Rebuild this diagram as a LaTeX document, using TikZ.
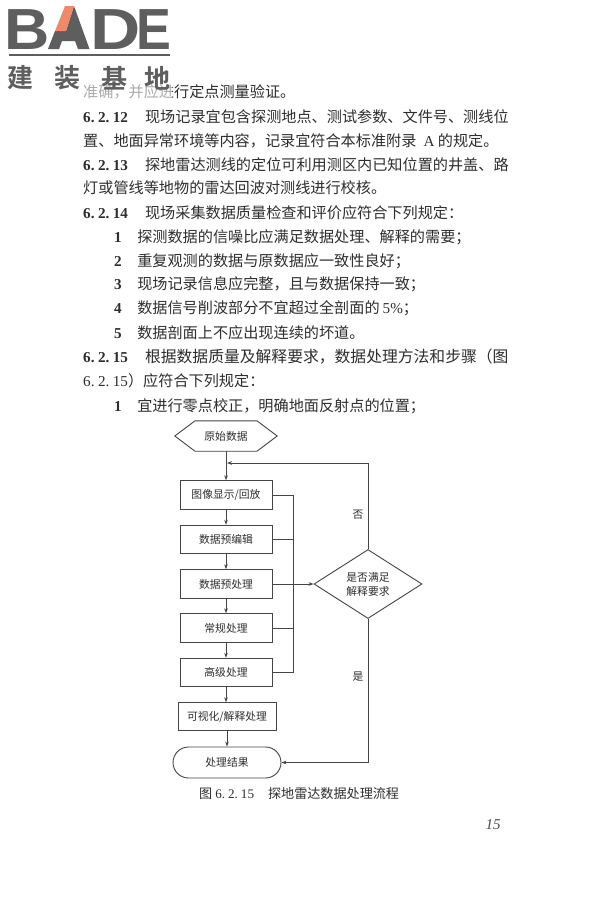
\documentclass[tikz,border=0pt]{standalone}
\usepackage{fontspec}
\usetikzlibrary{shapes.geometric,shapes.misc,arrows.meta}
\setmainfont{Noto Sans CJK SC}
\newfontfamily\cjkb{Noto Sans CJK SC Bold}
\newfontfamily\latinb{Liberation Sans Bold}
\newfontfamily\seriff{Liberation Serif}
\newfontfamily\serifb{Liberation Serif Bold}
\definecolor{ink}{HTML}{2E2E2E}
\definecolor{flowline}{HTML}{454545}
\definecolor{logogrey}{HTML}{5E5E5E}
\definecolor{logoorange}{HTML}{EE8A6A}
\tikzset{
  bodyline/.style={anchor=west,inner sep=0pt,text=ink,font=\fontsize{15.15}{16}\selectfont,text height=12pt,text depth=2pt},
  flowbox/.style={draw=flowline,line width=.9pt,rectangle,minimum width=92pt,minimum height=28.5pt,inner sep=0pt,text=ink,font=\fontsize{10.8}{12}\selectfont},
  flowarrow/.style={draw=flowline,line width=.8pt,-{Stealth[length=5pt,width=3.6pt]}},
  flowlink/.style={draw=flowline,line width=.8pt},
  flowlabel/.style={inner sep=0pt,text=ink,font=\fontsize{10.8}{12}\selectfont},
  logoletter/.style={anchor=base west,inner sep=0pt,text=logogrey,font=\latinb\fontsize{58}{58}\selectfont},
  logocjk/.style={inner sep=0pt,text=logogrey,font=\cjkb\fontsize{26}{28}\selectfont},
}
\newcommand{\secno}[3]{{\serifb #1.\hspace{3.5pt}#2.\hspace{3.5pt}#3}\hspace{17pt}}
\newcommand{\itemno}[1]{{\serifb #1}\hspace{15.5pt}}
\begin{document}
\begin{tikzpicture}[x=1pt,y=-1pt]
\useasboundingbox (0,0) rectangle (600,900);
\fill[white] (0,0) rectangle (600,900);
% body text
\node[bodyline] (t0) at (83,92) {准确，并应进行定点测量验证。};
\fill[white,opacity=.6] (80,80) rectangle (172,102);
\node[bodyline] (t1) at (83,117) {\secno{6}{2}{12}现场记录宜包含探测地点、测试参数、文件号、测线位};
\node[bodyline] (t2) at (83,141) {置、地面异常环境等内容，记录宜符合本标准附录\hspace{7pt}{\seriff A}\hspace{3.5pt}的规定。};
\node[bodyline] (t3) at (83,165) {\secno{6}{2}{13}探地雷达测线的定位可利用测区内已知位置的井盖、路};
\node[bodyline] (t4) at (83,188) {灯或管线等地物的雷达回波对测线进行校核。};
\node[bodyline] (t5) at (83,213) {\secno{6}{2}{14}现场采集数据质量检查和评价应符合下列规定：};
\node[bodyline] (t6) at (114,237) {\itemno{1}探测数据的信噪比应满足数据处理、解释的需要；};
\node[bodyline] (t7) at (114,261) {\itemno{2}重复观测的数据与原数据应一致性良好；};
\node[bodyline] (t8) at (114,284) {\itemno{3}现场记录信息应完整，且与数据保持一致；};
\node[bodyline] (t9) at (114,308) {\itemno{4}数据信号削波部分不宜超过全剖面的\hspace{3pt}{\seriff 5\%}；};
\node[bodyline] (t10) at (114,333) {\itemno{5}数据剖面上不应出现连续的坏道。};
\node[bodyline] (t11) at (83,357) {\secno{6}{2}{15}{\fontsize{15.8}{16}\selectfont 根据数据质量及解释要求，数据处理方法和步骤（图}};
\node[bodyline] (t12) at (83,381) {{\seriff 6.\hspace{3.5pt}2.\hspace{3.5pt}15}）应符合下列规定：};
\node[bodyline] (t13) at (114,406) {\itemno{1}宜进行零点校正，明确地面反射点的位置；};
% logo
\node[logoletter] (logob) at (4.6,49) {\scalebox{1.08}[1]{B}};
\node[logoletter] (logod) at (90,49) {\scalebox{1.2}[1]{D}};
\node[logoletter] (logoe) at (136,49) {\scalebox{.9}[1]{E}};
\fill[logogrey] (74,6) -- (89.5,49) -- (78,49) -- (75,41) -- (62,41) -- (59,49) -- (48,49) -- (55,31) -- (66,31) -- cycle;
\fill[logoorange] (65,6) -- (74,6) -- (66,31) -- (55,31) -- cycle;
\draw[logogrey,line width=2.6pt] (9,55) -- (170,55);
\node[logocjk] (l1) at (21,78) {建};
\node[logocjk] (l2) at (67,78) {装};
\node[logocjk] (l3) at (114,78) {基};
\node[logocjk] (l4) at (157,78) {地};
% flowchart
\node[flowlabel,minimum width=102pt,minimum height=30pt] (hex) at (226,436) {原始数据};
\draw[flowlink,line width=.9pt] (hex.west) -- (hex.north west -| 195,0) -- (hex.north east -| 257,0) -- (hex.east) -- (hex.south east -| 257,0) -- (hex.south west -| 195,0) -- cycle;
\node[flowbox] (b1) at (226,495) {图像显示/回放};
\node[flowbox] (b2) at (226,539.5) {数据预编辑};
\node[flowbox] (b3) at (226,584) {数据预处理};
\node[flowbox] (b4) at (226,628) {常规处理};
\node[flowbox] (b5) at (226,672.5) {高级处理};
\node[flowbox,minimum width=98pt,minimum height=27.5pt] (b6) at (227,716.5) {可视化/解释处理};
\node[flowbox,rounded rectangle,minimum width=108pt,minimum height=31pt] (end) at (227,762.5) {处理结果};
\node[flowbox,diamond,aspect=1.57,minimum width=108pt,minimum height=69pt,align=center,font=\fontsize{10.8}{14}\selectfont] (dec) at (368,584) {是否满足\\解释要求};
\coordinate (merge) at (227,463);
\coordinate (bustop) at (293,495);
\coordinate (busbot) at (293,672.5);
\coordinate (noturn) at (dec.north |- merge);
\coordinate (yesturn) at (dec.south |- end.east);
\draw[flowarrow] (hex.south) -- (b1.north);
\draw[flowarrow] (b1) -- (b2);
\draw[flowarrow] (b2) -- (b3);
\draw[flowarrow] (b3) -- (b4);
\draw[flowarrow] (b4) -- (b5);
\draw[flowarrow] (b5.south) -- (b6.north -| b5.south);
\draw[flowarrow] (b6) -- (end);
\draw[flowlink] (b1.east) -- (bustop) -- (busbot) -- (b5.east);
\draw[flowlink] (b2.east) -- (b2.east -| bustop);
\draw[flowlink] (b4.east) -- (b4.east -| bustop);
\draw[flowarrow] (b3.east) -- (dec.west);
\draw[flowarrow] (dec.north) -- (noturn) -- (merge);
\draw[flowarrow] (dec.south) -- (yesturn) -- (end.east);
\node[flowlabel] (no) at (358,515) {否};
\node[flowlabel] (yes) at (358,677) {是};
\node[anchor=west,inner sep=0pt,text=ink,font=\fontsize{13.1}{14}\selectfont] (cap) at (199,794) {图\hspace{3pt}{\seriff 6.\hspace{3pt}2.\hspace{3pt}15}\hspace{14pt}探地雷达数据处理流程};
\node[inner sep=0pt,text=black!70,font=\seriff\itshape\fontsize{15}{16}\selectfont] (page) at (493,825) {15};
\end{tikzpicture}
\end{document}
